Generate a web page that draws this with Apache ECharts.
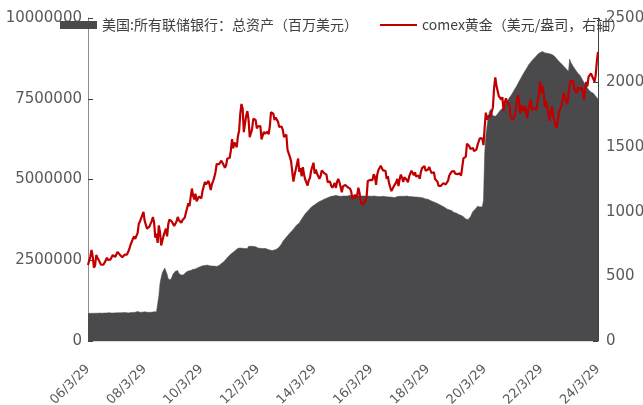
<!DOCTYPE html>
<html>
<head>
<meta charset="utf-8">
<script src="https://cdn.jsdelivr.net/npm/echarts@6/dist/echarts.min.js"></script>
<style>
  html, body { margin: 0; padding: 0; background: #ffffff; }
  #chart { width: 643px; height: 405px; }
</style>
</head>
<body>
<div id="chart"></div>
<script>
// Series names shown in the legend
const fedName = '美国:所有联储银行：总资产（百万美元）';
const goldName = 'comex黄金（美元/盎司，右轴）';

// Sample dates: 2006/3/29, then the 14th and the month end (29th, Feb 28/29) of each month to 2024/3/29
const firstDate = [2006, 3, 29];
const lastMonth = [2024, 3];

// Left axis: Fed total assets, million USD (one row per year)
const fedTotalAssets = [
  // 2006 (from 3/29)
  852000, 855000, 858000, 858000, 857000, 859000, 861000, 866000, 862000, 862000, 864000, 866000, 862000, 866000, 866000, 872000, 870000, 875000, 878000,
  // 2007
  870000, 866000, 868000, 870000, 870000, 872000, 872000, 875000, 876000, 877000, 878000, 880000, 878000, 879000, 885000, 870000, 874000, 880000, 882000, 885000, 883000, 889000, 890000, 915000,
  // 2008
  888000, 890000, 893000, 893000, 893000, 905000, 888000, 890000, 885000, 888000, 890000, 892000, 895000, 904000, 906000, 905000, 925000, 1400000, 1790000, 1970000, 2120000, 2140000, 2260000, 2240000,
  // 2009
  2070000, 1920000, 1860000, 1900000, 1970000, 2070000, 2100000, 2160000, 2200000, 2180000, 2090000, 2060000, 2040000, 2010000, 2050000, 2100000, 2130000, 2150000, 2170000, 2160000, 2180000, 2200000, 2220000, 2240000,
  // 2010
  2230000, 2240000, 2270000, 2280000, 2300000, 2320000, 2330000, 2330000, 2340000, 2340000, 2350000, 2350000, 2330000, 2330000, 2320000, 2310000, 2320000, 2300000, 2310000, 2300000, 2340000, 2370000, 2400000, 2420000,
  // 2011
  2450000, 2480000, 2540000, 2590000, 2620000, 2660000, 2690000, 2710000, 2750000, 2780000, 2810000, 2860000, 2870000, 2870000, 2880000, 2880000, 2870000, 2860000, 2860000, 2860000, 2860000, 2930000, 2920000, 2930000,
  // 2012
  2920000, 2930000, 2920000, 2920000, 2900000, 2880000, 2870000, 2870000, 2860000, 2860000, 2860000, 2870000, 2850000, 2840000, 2820000, 2820000, 2800000, 2800000, 2810000, 2820000, 2820000, 2850000, 2870000, 2910000,
  // 2013
  2970000, 3010000, 3080000, 3120000, 3170000, 3220000, 3260000, 3300000, 3340000, 3380000, 3420000, 3450000, 3510000, 3550000, 3600000, 3630000, 3650000, 3720000, 3780000, 3830000, 3890000, 3940000, 3990000, 4020000,
  // 2014
  4060000, 4100000, 4140000, 4170000, 4190000, 4220000, 4250000, 4270000, 4300000, 4320000, 4340000, 4350000, 4380000, 4390000, 4410000, 4420000, 4430000, 4450000, 4460000, 4480000, 4490000, 4490000, 4500000, 4510000,
  // 2015
  4500000, 4490000, 4490000, 4480000, 4480000, 4490000, 4490000, 4490000, 4490000, 4490000, 4500000, 4510000, 4500000, 4490000, 4490000, 4490000, 4480000, 4490000, 4480000, 4490000, 4490000, 4490000, 4490000, 4490000,
  // 2016
  4490000, 4480000, 4490000, 4490000, 4480000, 4480000, 4480000, 4490000, 4480000, 4480000, 4470000, 4470000, 4470000, 4470000, 4470000, 4480000, 4470000, 4470000, 4460000, 4460000, 4460000, 4460000, 4460000, 4450000,
  // 2017
  4450000, 4440000, 4460000, 4470000, 4470000, 4480000, 4480000, 4480000, 4480000, 4480000, 4480000, 4490000, 4480000, 4470000, 4470000, 4470000, 4470000, 4460000, 4460000, 4460000, 4460000, 4450000, 4450000, 4440000,
  // 2018
  4440000, 4430000, 4410000, 4400000, 4390000, 4390000, 4370000, 4350000, 4330000, 4320000, 4300000, 4290000, 4270000, 4260000, 4230000, 4220000, 4190000, 4180000, 4160000, 4140000, 4110000, 4090000, 4070000, 4060000,
  // 2019
  4030000, 4040000, 4020000, 3980000, 3980000, 3960000, 3940000, 3920000, 3910000, 3890000, 3880000, 3850000, 3810000, 3780000, 3770000, 3760000, 3770000, 3850000, 3930000, 4010000, 4050000, 4080000, 4120000, 4170000,
  // 2020
  4160000, 4150000, 4170000, 4160000, 4360000, 5800000, 6370000, 6660000, 6930000, 7100000, 7170000, 7080000, 6970000, 6950000, 6960000, 7010000, 7030000, 7080000, 7140000, 7160000, 7200000, 7250000, 7310000, 7360000,
  // 2021
  7410000, 7460000, 7540000, 7580000, 7640000, 7690000, 7770000, 7820000, 7890000, 7930000, 8030000, 8070000, 8160000, 8230000, 8290000, 8350000, 8410000, 8470000, 8540000, 8560000, 8630000, 8680000, 8720000, 8760000,
  // 2022
  8790000, 8830000, 8880000, 8910000, 8930000, 8940000, 8965000, 8940000, 8920000, 8910000, 8910000, 8910000, 8890000, 8880000, 8870000, 8850000, 8820000, 8770000, 8740000, 8700000, 8650000, 8600000, 8580000, 8550000,
  // 2023
  8510000, 8470000, 8430000, 8390000, 8340000, 8730000, 8620000, 8560000, 8500000, 8440000, 8390000, 8340000, 8290000, 8250000, 8210000, 8140000, 8100000, 8010000, 7960000, 7900000, 7840000, 7780000, 7740000, 7710000,
  // 2024 (to 3/29)
  7680000, 7670000, 7630000, 7580000, 7540000, 7490000
];

// Right axis: COMEX gold, USD per ounce (one row per year)
const comexGold = [
  // 2006 (from 3/29)
  588, 598, 654, 705, 655, 568, 585, 665, 645, 628, 622, 590, 600, 590, 605, 622, 645, 628, 635,
  // 2007
  630, 648, 665, 672, 650, 665, 690, 680, 668, 655, 648, 650, 668, 665, 668, 660, 712, 743, 755, 790, 810, 790, 800, 835,
  // 2008
  905, 925, 910, 975, 1000, 930, 925, 870, 870, 885, 875, 930, 960, 915, 800, 830, 760, 895, 840, 740, 740, 815, 820, 870,
  // 2009
  810, 905, 940, 940, 925, 925, 890, 895, 925, 960, 935, 940, 915, 935, 945, 955, 995, 995, 1065, 1045, 1115, 1180, 1125, 1095,
  // 2010
  1140, 1082, 1090, 1118, 1105, 1105, 1160, 1168, 1230, 1213, 1228, 1240, 1208, 1168, 1215, 1238, 1268, 1308, 1370, 1358, 1368, 1367, 1396, 1410,
  // 2011
  1360, 1340, 1362, 1410, 1422, 1418, 1473, 1563, 1492, 1536, 1520, 1500, 1585, 1628, 1760, 1835, 1800, 1617, 1683, 1745, 1780, 1713, 1578, 1565,
  // 2012
  1640, 1720, 1725, 1710, 1645, 1662, 1660, 1663, 1560, 1566, 1620, 1604, 1590, 1620, 1600, 1660, 1770, 1775, 1760, 1710, 1730, 1725, 1696, 1657,
  // 2013
  1670, 1660, 1635, 1578, 1590, 1598, 1480, 1468, 1425, 1392, 1387, 1234, 1285, 1327, 1335, 1412, 1308, 1338, 1275, 1345, 1288, 1250, 1235, 1203,
  // 2014
  1245, 1262, 1318, 1323, 1380, 1295, 1327, 1296, 1305, 1256, 1275, 1320, 1307, 1300, 1315, 1287, 1230, 1218, 1234, 1202, 1186, 1175, 1222, 1185,
  // 2015
  1234, 1255, 1228, 1213, 1152, 1198, 1193, 1208, 1219, 1190, 1180, 1179, 1154, 1097, 1113, 1133, 1108, 1127, 1186, 1146, 1081, 1057, 1064, 1068,
  // 2016
  1073, 1116, 1239, 1234, 1247, 1236, 1245, 1290, 1273, 1209, 1288, 1323, 1333, 1356, 1336, 1320, 1325, 1317, 1255, 1275, 1222, 1190, 1160, 1160,
  // 2017
  1197, 1192, 1228, 1254, 1200, 1253, 1288, 1265, 1230, 1268, 1270, 1246, 1228, 1272, 1285, 1318, 1328, 1284, 1305, 1272, 1283, 1282, 1255, 1309,
  // 2018
  1338, 1343, 1355, 1318, 1326, 1327, 1347, 1323, 1300, 1300, 1306, 1253, 1241, 1233, 1200, 1206, 1201, 1192, 1222, 1227, 1211, 1225, 1241, 1281,
  // 2019
  1291, 1311, 1314, 1316, 1296, 1298, 1292, 1285, 1297, 1280, 1345, 1413, 1415, 1427, 1527, 1537, 1507, 1485, 1495, 1495, 1470, 1466, 1481, 1518,
  // 2020
  1546, 1570, 1584, 1566, 1516, 1654, 1768, 1713, 1740, 1751, 1737, 1774, 1810, 1960, 2040, 1975, 1965, 1895, 1907, 1868, 1887, 1781, 1843, 1879,
  // 2021
  1851, 1850, 1823, 1730, 1727, 1712, 1737, 1773, 1838, 1905, 1866, 1761, 1826, 1835, 1779, 1819, 1806, 1726, 1796, 1784, 1869, 1785, 1770, 1805,
  // 2022
  1817, 1791, 1870, 1900, 2010, 1917, 1975, 1911, 1810, 1857, 1813, 1818, 1705, 1782, 1816, 1737, 1709, 1668, 1648, 1645, 1776, 1763, 1818, 1826,
  // 2023
  1921, 1930, 1854, 1836, 1910, 1984, 2015, 1999, 2019, 1943, 1955, 1918, 1964, 1960, 1945, 1965, 1932, 1866, 1941, 2006, 1970, 2045, 2044, 2071,
  // 2024 (to 3/29)
  2051, 2042, 2007, 2054, 2162, 2238
];

// Axis scales
const leftTicks = { min: 0, max: 10000000, interval: 2500000 };
const rightTicks = { min: 0, max: 2500, interval: 500 };
// A date label every 2 years (24 months x 2 samples)
const labelEvery = 48;

// Build the date categories as YY/M/D
const categories = [];
const yy = y => String(y % 100).padStart(2, '0');
categories.push(yy(firstDate[0]) + '/' + firstDate[1] + '/' + firstDate[2]);
for (let y = firstDate[0]; y <= lastMonth[0]; y++) {
  for (let m = 1; m <= 12; m++) {
    if (y === firstDate[0] && m <= firstDate[1]) continue;
    if (y === lastMonth[0] && m > lastMonth[1]) break;
    const monthEnd = m === 2 ? (y % 4 === 0 ? 29 : 28) : 29;
    categories.push(yy(y) + '/' + m + '/14');
    categories.push(yy(y) + '/' + m + '/' + monthEnd);
  }
}

const numFont = 'DejaVu Sans';
const cjkFont = 'Noto Sans CJK SC';
const labelColor = '#595959';
const areaColor = '#4a4a4c';
const goldColor = '#c00000';
const plainNumber = v => String(v);

const legendText = { fontFamily: cjkFont, fontSize: 14, color: '#404040' };

const chart = echarts.init(document.getElementById('chart'), null, { renderer: 'canvas' });
chart.setOption({
  animation: false,
  backgroundColor: '#ffffff',
  textStyle: { fontFamily: cjkFont },
  grid: { left: 88, right: 45, top: 18, bottom: 64, containLabel: false, outerBoundsMode: 'none' },
  legend: [
    {
      left: 55,
      top: 13,
      itemWidth: 37,
      itemHeight: 8,
      itemGap: 0,
      textStyle: legendText,
      data: [{ name: fedName, icon: 'rect' }]
    },
    {
      left: 375,
      top: 13,
      itemWidth: 37,
      itemHeight: 2,
      itemGap: 0,
      textStyle: legendText,
      data: [{ name: goldName, icon: 'rect' }]
    }
  ],
  xAxis: {
    type: 'category',
    data: categories,
    boundaryGap: false,
    axisLine: { show: true, lineStyle: { color: '#d9d9d9' } },
    axisTick: { show: false },
    axisLabel: {
      interval: (index) => index % labelEvery === 0,
      rotate: 45,
      margin: 26,
      fontFamily: numFont,
      fontSize: 13,
      color: labelColor
    },
    splitLine: { show: false }
  },
  yAxis: [
    {
      type: 'value',
      position: 'left',
      min: leftTicks.min,
      max: leftTicks.max,
      interval: leftTicks.interval,
      axisLine: { show: true, lineStyle: { color: '#8c8c8c' } },
      axisTick: { show: true, inside: true, length: 5, lineStyle: { color: '#404040' } },
      axisLabel: { margin: 6, fontFamily: numFont, fontSize: 15, color: labelColor, formatter: plainNumber },
      splitLine: { show: false }
    },
    {
      type: 'value',
      position: 'right',
      min: rightTicks.min,
      max: rightTicks.max,
      interval: rightTicks.interval,
      axisLine: { show: true, lineStyle: { color: '#404040' } },
      axisTick: { show: true, inside: true, length: 5, lineStyle: { color: '#404040' } },
      axisLabel: { margin: 8, fontFamily: numFont, fontSize: 15, color: labelColor, formatter: plainNumber },
      splitLine: { show: false }
    }
  ],
  series: [
    {
      name: fedName,
      type: 'line',
      yAxisIndex: 0,
      data: fedTotalAssets,
      symbol: 'none',
      showSymbol: false,
      lineStyle: { width: 0.5, color: areaColor },
      itemStyle: { color: areaColor },
      areaStyle: { color: areaColor, opacity: 1 },
      z: 2
    },
    {
      name: goldName,
      type: 'line',
      yAxisIndex: 1,
      data: comexGold,
      symbol: 'none',
      showSymbol: false,
      lineStyle: { width: 2.2, color: goldColor },
      itemStyle: { color: goldColor },
      z: 3
    }
  ]
});
</script>
</body>
</html>
